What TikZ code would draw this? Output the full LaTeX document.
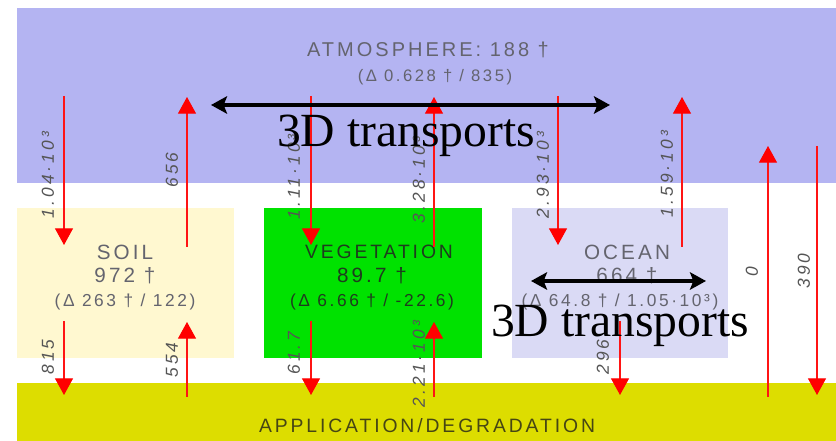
\documentclass[tikz,border=0pt]{standalone}
\usepackage{fontspec}
\setmainfont{Liberation Sans}
\newfontfamily\lbl[LetterSpace=15]{Liberation Sans}
\newfontfamily\rlbl[LetterSpace=18]{Liberation Sans}
\newfontfamily\tnr{Liberation Serif}
\usetikzlibrary{arrows.meta}
\definecolor{atmc}{RGB}{180,180,242}
\definecolor{soilc}{RGB}{255,248,208}
\definecolor{vegc}{RGB}{0,226,0}
\definecolor{oceanc}{RGB}{218,218,245}
\definecolor{appc}{RGB}{221,221,0}
\definecolor{txtgray}{RGB}{100,100,110}
\definecolor{vegtxt}{RGB}{30,60,30}
\definecolor{apptxt}{RGB}{70,70,20}
\definecolor{numgray}{RGB}{85,85,85}
\definecolor{linered}{RGB}{255,20,20}
\begin{document}
\begin{tikzpicture}[x=0.75pt,y=-0.75pt,
  redarr/.style={draw=linered, color=linered, line width=0.9pt, -{Triangle[width=13.5pt,length=12.5pt,color=red,fill=red]}},
  blkarr/.style={draw=black, line width=2.6pt, {Stealth[length=12pt,width=13pt,inset=2.5pt]}-{Stealth[length=12pt,width=13pt,inset=2.5pt]}},
  boxn/.style={draw=none, inner sep=0pt, outer sep=0pt},
  bigtxt/.style={font=\lbl\fontsize{15.5}{18}\selectfont, text=txtgray, inner sep=0pt},
  smalltxt/.style={font=\lbl\fontsize{13}{16}\selectfont, text=txtgray, inner sep=0pt},
  num/.style={font=\rlbl\itshape\fontsize{13}{15}\selectfont, rotate=90, text=numgray, inner sep=0pt},
  trans/.style={font=\tnr\fontsize{35.7}{40}\selectfont, text=black, inner sep=0pt}]
\fill[white] (0,0) rectangle (836,441);
\useasboundingbox (0,0) rectangle (836,441);
% boxes
\node[boxn, fill=atmc, minimum width=614.25pt, minimum height=131.25pt] (atm) at (426.5,95.5) {};
\node[boxn, fill=soilc, minimum width=162.75pt, minimum height=112.5pt] (soil) at (125.5,283) {};
\node[boxn, fill=vegc, minimum width=163.5pt, minimum height=112.5pt] (veg) at (373,283) {};
\node[boxn, fill=oceanc, minimum width=162pt, minimum height=112.5pt] (ocean) at (620,283) {};
\node[boxn, fill=appc, minimum width=614.25pt, minimum height=45pt] (app) at (426.5,413) {};
% box texts
\node[bigtxt, font=\lbl\fontsize{15}{18}\selectfont] (atmT) at (428,50) {ATMOSPHERE: 188 †};
\node[smalltxt, font=\lbl\fontsize{12.5}{15}\selectfont] (atmD) at (435,77) {(Δ 0.628 † / 835)};
\node[bigtxt] (soilT) at (125,252) {SOIL};
\node[bigtxt] (soilM) at (125,276) {972 †};
\node[smalltxt] (soilD) at (125,302) {(Δ 263 † / 122)};
\node[bigtxt, text=vegtxt, font=\lbl\fontsize{14.5}{18}\selectfont] (vegT) at (379,252) {VEGETATION};
\node[bigtxt, text=vegtxt] (vegM) at (372,276) {89.7 †};
\node[smalltxt, text=vegtxt] (vegD) at (372,302) {(Δ 6.66 † / -22.6)};
\node[bigtxt] (ocT) at (627,252) {OCEAN};
\node[bigtxt] (ocM) at (627,276) {664 †};
\node[smalltxt] (ocD) at (620,302) {(Δ 64.8 † / 1.05·10³)};
\node[bigtxt, text=apptxt, font=\lbl\fontsize{14.5}{18}\selectfont] (appT) at (427,426) {APPLICATION/DEGRADATION};
% arrow end points
\coordinate (s1a) at (64,96);   \coordinate (s1b) at (64,245);
\coordinate (s2a) at (187,247); \coordinate (s2b) at (187,97);
\coordinate (v1a) at (311,96);  \coordinate (v1b) at (311,245);
\coordinate (v2a) at (434,247); \coordinate (v2b) at (434,97);
\coordinate (o1a) at (558,96);  \coordinate (o1b) at (558,245);
\coordinate (o2a) at (682,247); \coordinate (o2b) at (682,97);
\coordinate (r1a) at (768,397); \coordinate (r1b) at (768,146);
\coordinate (r2a) at (817,146); \coordinate (r2b) at (817,395);
\coordinate (l1a) at (64,321);  \coordinate (l1b) at (64,395);
\coordinate (l2a) at (187,397); \coordinate (l2b) at (187,322);
\coordinate (l3a) at (311,321); \coordinate (l3b) at (311,395);
\coordinate (l4a) at (434,397); \coordinate (l4b) at (434,322);
\coordinate (l5a) at (620,321); \coordinate (l5b) at (620,395);
% red arrows
\foreach \p in {s1,s2,v1,v2,o1,o2,r1,r2,l1,l2,l3,l4,l5}
  \draw[redarr] (\p a) -- (\p b);
% flux labels
\node[num] (n1) at (48,175) {1.04·10³};
\node[num] (n2) at (172,170) {656};
\node[num] (n3) at (294,177) {1.11·10³};
\node[num] (n4) at (419,180) {3.28·10³};
\node[num] (n5) at (543,175) {2.93·10³};
\node[num] (n6) at (667,174) {1.59·10³};
\node[num] (n7) at (752,272) {0};
\node[num] (n8) at (804,271) {390};
\node[num] (n9) at (48,357) {815};
\node[num] (n10) at (172,360) {554};
\node[num] (n11) at (294,353) {61.7};
\node[num] (n12) at (419,364) {2.21·10³};
\node[num] (n13) at (603,357) {296};
% 3D transports
\coordinate (t1a) at (211,105); \coordinate (t1b) at (610,105);
\draw[blkarr] (t1a) -- (t1b);
\node[trans] (t1) at (406,136) {3D transports};
\coordinate (t2a) at (531,281); \coordinate (t2b) at (706,281);
\draw[blkarr] (t2a) -- (t2b);
\node[trans] (t2) at (620,326) {3D transports};
\end{tikzpicture}
\end{document}
